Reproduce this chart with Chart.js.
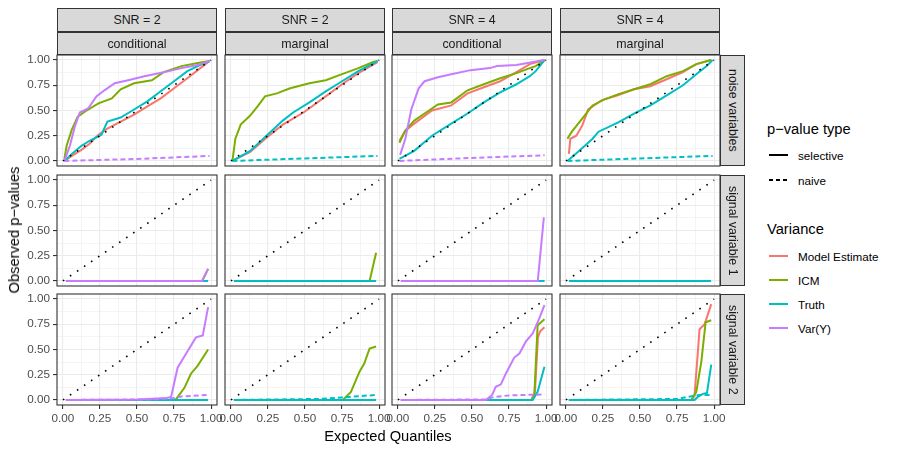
<!DOCTYPE html>
<html>
<head>
<meta charset="utf-8">
<script src="https://cdn.jsdelivr.net/npm/chart.js@4.4.1/dist/chart.umd.min.js"></script>
<style>
  body { margin: 0; background: #fff; font-family: "Liberation Sans", Arial, sans-serif; }
  #wrap { position: relative; width: 900px; height: 450px; overflow: hidden; }
  canvas { position: absolute; }
  .strip { position: absolute; box-sizing: border-box; border: 1px solid #333; background: #d9d9d9;
           color: #1a1a1a; font-size: 12.4px; display: flex; align-items: center; justify-content: center; }
  .strip.v { writing-mode: vertical-rl; }
  .txt { position: absolute; white-space: nowrap; transform: translate(-50%, -50%); }
  .ltxt { position: absolute; white-space: nowrap; transform: translateY(-50%); }
  svg { position: absolute; }
</style>
</head>
<body>
<div id="wrap"></div>
<script>
// facet labels
const snrLabels = ["SNR = 2", "SNR = 2", "SNR = 4", "SNR = 4"];
const typeLabels = ["conditional", "marginal", "conditional", "marginal"];
const rowLabels = ["noise variables", "signal variable 1", "signal variable 2"];
const varianceNames = ["Model Estimate", "ICM", "Truth", "Var(Y)"];
const pvalueTypes = ["selective", "naive"];
const varianceColors = ["#F8766D", "#7CAE00", "#00BFC4", "#C77CFF"];

// tick values
const majorTicks = [0, 0.25, 0.5, 0.75, 1];
const gridTicks = [0, 0.125, 0.25, 0.375, 0.5, 0.625, 0.75, 0.875, 1];

// reference line (expected = observed)
const diagonal = [[0, 0], [1, 1]];

// ---- noise variables, [expected quantile, observed p-value]
const noiseC2Model = [[0.01, 0], [0.06, 0.05], [0.125, 0.11], [0.18, 0.17], [0.24, 0.26], [0.30, 0.32], [0.39, 0.39], [0.48, 0.46], [0.57, 0.54], [0.66, 0.62], [0.75, 0.72], [0.84, 0.82], [0.91, 0.90], [0.99, 0.99]];
const noiseC2Icm = [[0.01, 0.02], [0.025, 0.15], [0.06, 0.31], [0.10, 0.44], [0.15, 0.49], [0.24, 0.57], [0.33, 0.62], [0.39, 0.71], [0.48, 0.77], [0.60, 0.80], [0.68, 0.88], [0.80, 0.94], [0.91, 0.97], [0.99, 0.99]];
const noiseC2Truth = [[0.01, 0], [0.06, 0.07], [0.125, 0.15], [0.18, 0.20], [0.26, 0.26], [0.30, 0.39], [0.39, 0.43], [0.48, 0.51], [0.57, 0.59], [0.66, 0.69], [0.75, 0.79], [0.84, 0.89], [0.91, 0.94], [0.99, 0.99]];
const noiseC2VarY = [[0.01, 0], [0.047, 0.15], [0.08, 0.34], [0.114, 0.48], [0.17, 0.52], [0.226, 0.64], [0.28, 0.70], [0.35, 0.77], [0.44, 0.80], [0.55, 0.84], [0.68, 0.88], [0.80, 0.92], [0.91, 0.95], [0.99, 0.99]];
const noiseC2Naive = [[0.01, 0], [0.5, 0.02], [0.99, 0.05]];

const noiseM2Model = [[0.01, 0], [0.13, 0.09], [0.24, 0.23], [0.35, 0.36], [0.49, 0.48], [0.64, 0.64], [0.75, 0.76], [0.86, 0.87], [0.99, 0.98]];
const noiseM2Icm = [[0.01, 0], [0.03, 0.22], [0.066, 0.36], [0.13, 0.45], [0.18, 0.54], [0.23, 0.64], [0.31, 0.67], [0.40, 0.72], [0.53, 0.77], [0.64, 0.80], [0.75, 0.86], [0.86, 0.92], [0.96, 0.98], [0.99, 0.99]];
const noiseM2Truth = [[0.01, 0], [0.13, 0.10], [0.24, 0.25], [0.35, 0.40], [0.42, 0.48], [0.53, 0.58], [0.64, 0.69], [0.75, 0.79], [0.86, 0.89], [0.99, 0.99]];
const noiseM2Naive = [[0.01, 0], [0.5, 0.025], [0.99, 0.05]];

const noiseC4Model = [[0.01, 0.20], [0.05, 0.30], [0.11, 0.37], [0.23, 0.50], [0.36, 0.55], [0.47, 0.67], [0.58, 0.73], [0.69, 0.79], [0.80, 0.88], [0.89, 0.96], [0.99, 1.0]];
const noiseC4Icm = [[0.01, 0.18], [0.05, 0.30], [0.11, 0.40], [0.18, 0.47], [0.27, 0.56], [0.36, 0.58], [0.47, 0.70], [0.58, 0.76], [0.69, 0.82], [0.80, 0.87], [0.89, 0.92], [0.93, 0.94], [0.99, 1.0]];
const noiseC4Truth = [[0.01, 0.02], [0.11, 0.10], [0.23, 0.25], [0.36, 0.37], [0.47, 0.47], [0.58, 0.58], [0.69, 0.68], [0.80, 0.76], [0.89, 0.84], [0.93, 0.89], [0.99, 1.0]];
const noiseC4VarY = [[0.015, 0.06], [0.05, 0.22], [0.09, 0.51], [0.14, 0.72], [0.18, 0.79], [0.27, 0.83], [0.36, 0.86], [0.49, 0.90], [0.62, 0.92], [0.67, 0.94], [0.80, 0.95], [0.99, 1.0]];
const noiseC4Naive = [[0.01, 0], [0.5, 0.03], [0.99, 0.056]];

const noiseM4Model = [[0.02, 0.07], [0.03, 0.22], [0.07, 0.25], [0.11, 0.35], [0.15, 0.51], [0.24, 0.60], [0.35, 0.65], [0.46, 0.71], [0.57, 0.74], [0.68, 0.81], [0.79, 0.88], [0.88, 0.96], [0.98, 1.0]];
const noiseM4Icm = [[0.01, 0.22], [0.04, 0.29], [0.11, 0.42], [0.18, 0.55], [0.26, 0.61], [0.35, 0.66], [0.46, 0.71], [0.57, 0.76], [0.68, 0.84], [0.79, 0.89], [0.88, 0.96], [0.98, 1.0]];
const noiseM4Truth = [[0.01, 0], [0.09, 0.10], [0.18, 0.22], [0.22, 0.29], [0.35, 0.38], [0.46, 0.47], [0.57, 0.55], [0.68, 0.65], [0.79, 0.75], [0.88, 0.86], [0.95, 0.94], [0.99, 1.0]];
const noiseM4Naive = [[0.01, 0], [0.5, 0.025], [0.99, 0.05]];

// ---- signal variable 1
const sig1C2Truth = [[0.02, 0], [0.98, 0]];
const sig1C2Icm = [[0.02, 0], [0.94, 0], [0.98, 0.12]];
const sig1C2VarY = [[0.02, 0], [0.94, 0], [0.98, 0.12]];
const sig1M2Truth = [[0.02, 0], [0.98, 0]];
const sig1M2Icm = [[0.936, 0], [0.98, 0.28]];
const sig1C4Truth = [[0.02, 0], [0.99, 0]];
const sig1C4VarY = [[0.02, 0], [0.944, 0], [0.985, 0.63]];
const sig1M4Truth = [[0.02, 0], [0.98, 0]];

// ---- signal variable 2
const sig2C2Truth = [[0.02, 0], [0.98, 0]];
const sig2C2Icm = [[0.02, 0], [0.76, 0], [0.82, 0.12], [0.864, 0.26], [0.91, 0.34], [0.98, 0.50]];
const sig2C2VarY = [[0.02, 0], [0.5, 0.005], [0.70, 0.02], [0.73, 0.03], [0.774, 0.32], [0.84, 0.48], [0.898, 0.62], [0.944, 0.64], [0.98, 0.92]];
const sig2C2Naive = [[0.02, 0], [0.6, 0.005], [0.75, 0.02], [0.8, 0.035], [0.98, 0.05]];

const sig2M2Truth = [[0.02, 0], [0.98, 0]];
const sig2M2Icm = [[0.02, 0], [0.755, 0], [0.81, 0.08], [0.868, 0.28], [0.90, 0.36], [0.936, 0.51], [0.98, 0.53]];
const sig2M2Naive = [[0.02, 0], [0.6, 0.01], [0.75, 0.025], [0.98, 0.05]];

const sig2C4Model = [[0.02, 0], [0.90, 0], [0.925, 0.08], [0.945, 0.62], [0.96, 0.68], [0.989, 0.72]];
const sig2C4Icm = [[0.02, 0], [0.898, 0], [0.92, 0.03], [0.943, 0.74], [0.966, 0.77], [0.989, 0.80]];
const sig2C4Truth = [[0.02, 0], [0.91, 0], [0.943, 0.08], [0.989, 0.33]];
const sig2C4VarY = [[0.02, 0], [0.593, 0], [0.636, 0.05], [0.66, 0.13], [0.695, 0.155], [0.728, 0.26], [0.785, 0.42], [0.82, 0.46], [0.864, 0.58], [0.91, 0.66], [0.955, 0.81], [0.989, 0.94]];
const sig2C4Naive = [[0.02, 0], [0.59, 0.005], [0.65, 0.03], [0.75, 0.045], [0.99, 0.055]];

const sig2M4Model = [[0.02, 0], [0.846, 0], [0.868, 0.04], [0.902, 0.70], [0.936, 0.75], [0.981, 0.95]];
const sig2M4Icm = [[0.02, 0], [0.846, 0], [0.88, 0.08], [0.914, 0.38], [0.943, 0.77], [0.981, 0.79]];
const sig2M4Truth = [[0.02, 0], [0.868, 0], [0.89, 0.03], [0.925, 0.06], [0.952, 0.07], [0.981, 0.35]];
const sig2M4Naive = [[0.02, 0], [0.75, 0.01], [0.82, 0.03], [0.9, 0.05], [0.98, 0.05]];

// per panel: selective lines [model, icm, truth, varY], naive line and its colour index
const panels = [
  [
    { sel: [noiseC2Model, noiseC2Icm, noiseC2Truth, noiseC2VarY], naive: noiseC2Naive, naiveVar: 3 },
    { sel: [noiseM2Model, noiseM2Icm, noiseM2Truth, null], naive: noiseM2Naive, naiveVar: 2 },
    { sel: [noiseC4Model, noiseC4Icm, noiseC4Truth, noiseC4VarY], naive: noiseC4Naive, naiveVar: 3 },
    { sel: [noiseM4Model, noiseM4Icm, noiseM4Truth, null], naive: noiseM4Naive, naiveVar: 2 }
  ],
  [
    { sel: [null, sig1C2Icm, sig1C2Truth, sig1C2VarY], naive: null },
    { sel: [null, sig1M2Icm, sig1M2Truth, null], naive: null },
    { sel: [null, null, sig1C4Truth, sig1C4VarY], naive: null },
    { sel: [null, null, sig1M4Truth, null], naive: null }
  ],
  [
    { sel: [null, sig2C2Icm, sig2C2Truth, sig2C2VarY], naive: sig2C2Naive, naiveVar: 3 },
    { sel: [null, sig2M2Icm, sig2M2Truth, null], naive: sig2M2Naive, naiveVar: 2 },
    { sel: [sig2C4Model, sig2C4Icm, sig2C4Truth, sig2C4VarY], naive: sig2C4Naive, naiveVar: 3 },
    { sel: [sig2M4Model, sig2M4Icm, sig2M4Truth, null], naive: sig2M4Naive, naiveVar: 2 }
  ]
];

// layout
const colLeft = [57, 225, 392, 560];
const rowTop = [55, 175, 294];
const panelW = 160, panelH = 111;
const padL = 45, padT = 8, padR = 15, padB = 28;

Chart.defaults.font.family = '"Liberation Sans", Arial, sans-serif';

const wrap = document.getElementById("wrap");

function isMajor(v) {
  return majorTicks.some(m => Math.abs(m - v) < 1e-9);
}

const panelBorder = {
  id: "panelBorder",
  afterDatasetsDraw(chart) {
    const { ctx, chartArea: a } = chart;
    ctx.save();
    ctx.strokeStyle = "#333333";
    ctx.lineWidth = 1.1;
    ctx.strokeRect(a.left, a.top, a.right - a.left, a.bottom - a.top);
    ctx.restore();
  }
};

function axis(which, show) {
  const isX = which === "x";
  return {
    type: "linear",
    min: isX ? -0.04 : -0.05,
    max: isX ? 1.04 : 1.05,
    afterBuildTicks: s => { s.ticks = gridTicks.map(v => ({ value: v })); },
    afterFit: s => {
      if (isX) s.height = padB; else s.width = padL;
      s.paddingLeft = s.paddingRight = s.paddingTop = s.paddingBottom = 0;
    },
    border: { display: false },
    grid: {
      color: "#EBEBEB",
      lineWidth: c => (c.tick && isMajor(c.tick.value)) ? 1.1 : 0.55,
      drawTicks: show,
      tickLength: 4,
      tickWidth: 1.1,
      tickColor: c => (c.tick && isMajor(c.tick.value)) ? "#333333" : "rgba(0,0,0,0)"
    },
    ticks: {
      display: show,
      autoSkip: false,
      maxRotation: 0,
      minRotation: 0,
      padding: 3,
      color: "#4D4D4D",
      font: { size: 11.7 },
      callback: v => isMajor(v) ? v.toFixed(2) : ""
    }
  };
}

function line(pts, color, dash, width) {
  return {
    data: pts.map(p => ({ x: p[0], y: p[1] })),
    borderColor: color,
    borderWidth: width,
    borderDash: dash,
    borderCapStyle: "butt",
    pointRadius: 0,
    tension: 0,
    fill: false
  };
}

panels.forEach((row, r) => {
  row.forEach((p, c) => {
    // bottom-to-top drawing order
    const stack = [];
    p.sel.forEach((pts, k) => { if (pts) stack.push(line(pts, varianceColors[k], [], 2)); });
    if (p.naive) stack.push(line(p.naive, varianceColors[p.naiveVar], [5, 3], 2));
    stack.push(line(diagonal, "#000000", [1.6, 6.9], 1.6));

    const cv = document.createElement("canvas");
    cv.width = panelW + padL + padR;
    cv.height = panelH + padT + padB;
    cv.style.left = (colLeft[c] - padL) + "px";
    cv.style.top = (rowTop[r] - padT) + "px";
    wrap.appendChild(cv);

    new Chart(cv, {
      type: "line",
      data: { datasets: stack.reverse() },
      options: {
        responsive: false,
        animation: false,
        events: [],
        layout: { padding: { left: 0, top: padT, right: padR, bottom: 0 } },
        plugins: { legend: { display: false }, tooltip: { enabled: false } },
        scales: { x: axis("x", r === 2), y: axis("y", c === 0) }
      },
      plugins: [panelBorder]
    });
  });
});

// strips
function addDiv(cls, text, css) {
  const d = document.createElement("div");
  d.className = cls;
  d.textContent = text;
  Object.assign(d.style, css);
  wrap.appendChild(d);
  return d;
}
colLeft.forEach((x, c) => {
  addDiv("strip", snrLabels[c], { left: x + "px", top: "8px", width: panelW + "px", height: "24px" });
  addDiv("strip", typeLabels[c], { left: x + "px", top: "32px", width: panelW + "px", height: "23px" });
});
rowTop.forEach((y, r) => {
  addDiv("strip v", rowLabels[r], { left: (colLeft[3] + panelW) + "px", top: y + "px", width: "25px", height: panelH + "px" });
});

// axis titles
addDiv("txt", "Observed p\u2212values", { left: "14px", top: "230px", fontSize: "14.7px", color: "#000", transform: "translate(-50%,-50%) rotate(-90deg)" });
addDiv("txt", "Expected Quantiles", { left: "388px", top: "436px", fontSize: "14.7px", color: "#000" });

// legend
function key(y, color, dash) {
  const ns = "http://www.w3.org/2000/svg";
  const s = document.createElementNS(ns, "svg");
  s.setAttribute("width", "22");
  s.setAttribute("height", "8");
  s.style.left = "768px";
  s.style.top = (y - 4) + "px";
  const l = document.createElementNS(ns, "line");
  l.setAttribute("x1", "1"); l.setAttribute("x2", "20");
  l.setAttribute("y1", "4"); l.setAttribute("y2", "4");
  l.setAttribute("stroke", color);
  l.setAttribute("stroke-width", "2");
  if (dash) l.setAttribute("stroke-dasharray", dash);
  s.appendChild(l);
  wrap.appendChild(s);
}
addDiv("ltxt", "p\u2212value type", { left: "767px", top: "129px", fontSize: "14.7px", color: "#000" });
const typeY = [155, 180];
pvalueTypes.forEach((t, i) => {
  key(typeY[i], "#000", i === 1 ? "4,3" : null);
  addDiv("ltxt", t, { left: "798px", top: typeY[i] + "px", fontSize: "11.7px", color: "#000" });
});
addDiv("ltxt", "Variance", { left: "767px", top: "229px", fontSize: "14.7px", color: "#000" });
const varY = [256, 280, 304, 328];
varianceNames.forEach((n, i) => {
  key(varY[i], varianceColors[i], null);
  addDiv("ltxt", n, { left: "798px", top: varY[i] + "px", fontSize: "11.7px", color: "#000" });
});
</script>
</body>
</html>
